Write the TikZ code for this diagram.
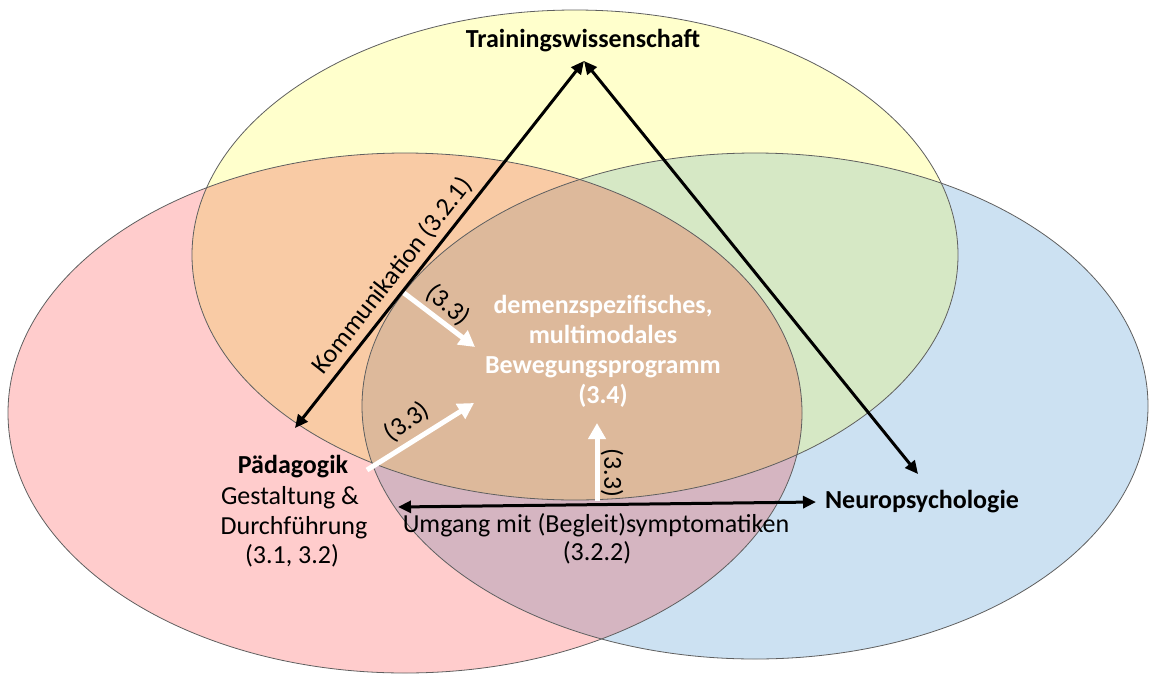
\documentclass[tikz,border=0pt]{standalone}
\usepackage{fontspec}
\setmainfont{Carlito}
\usetikzlibrary{arrows.meta}
\definecolor{cYel}{RGB}{255,255,204}
\definecolor{cPink}{RGB}{255,204,204}
\definecolor{cBlue}{RGB}{204,225,242}
\definecolor{cOrange}{RGB}{249,203,165}
\definecolor{cGreen}{RGB}{214,232,197}
\definecolor{cPurple}{RGB}{213,181,193}
\definecolor{cBrown}{RGB}{221,185,155}
\definecolor{cEdge}{RGB}{95,95,95}
\tikzset{
  rim/.style={draw=cEdge, line width=0.8pt},
  blkarrow/.style={line width=3pt, black, {Triangle[length=13pt,width=12pt]}-{Triangle[length=13pt,width=12pt]}},
  whtarrow/.style={line width=5pt, white, -{Triangle[length=16pt,width=17pt]}},
  lbl/.style={inner sep=0pt, font=\fontsize{26}{31}\selectfont},
  hdr/.style={inner sep=0pt, font=\fontsize{26}{31}\selectfont\bfseries},
  ctr/.style={inner sep=0pt, text=white, font=\fontsize{26}{31}\selectfont\bfseries},
}
\begin{document}
\begin{tikzpicture}[x=1pt, y=-1pt]
\useasboundingbox (0,0) rectangle (1151,675);

% base fields
\fill[cPink] (405,413) ellipse [x radius=397, y radius=260];
\fill[cBlue] (755,406) ellipse [x radius=393, y radius=253];
\fill[cYel]  (575,255) ellipse [x radius=383, y radius=245];

% pairwise overlaps
\begin{scope}
  \clip (405,413) ellipse [x radius=397, y radius=260];
  \fill[cOrange] (575,255) ellipse [x radius=383, y radius=245];
\end{scope}
\begin{scope}
  \clip (755,406) ellipse [x radius=393, y radius=253];
  \fill[cGreen] (575,255) ellipse [x radius=383, y radius=245];
\end{scope}
\begin{scope}
  \clip (405,413) ellipse [x radius=397, y radius=260];
  \fill[cPurple] (755,406) ellipse [x radius=393, y radius=253];
\end{scope}
% common core
\begin{scope}
  \clip (405,413) ellipse [x radius=397, y radius=260];
  \clip (755,406) ellipse [x radius=393, y radius=253];
  \fill[cBrown] (575,255) ellipse [x radius=383, y radius=245];
\end{scope}

% outlines
\draw[rim] (405,413) ellipse [x radius=397, y radius=260];
\draw[rim] (755,406) ellipse [x radius=393, y radius=253];
\draw[rim] (575,255) ellipse [x radius=383, y radius=245];

% discipline labels
\node[hdr, anchor=base] (tw) at (583,47) {Trainingswissenschaft};
\node[hdr, anchor=base] (pad) at (293,473) {Pädagogik};
\node[lbl, anchor=base] (pad2) at (290,504) {Gestaltung \&};
\node[lbl, anchor=base] (pad3) at (294,534) {Durchführung};
\node[lbl, anchor=base] (pad4) at (292,563) {(3.1, 3.2)};
\node[hdr, anchor=base] (neu) at (922,508) {Neuropsychologie};

% programme in the core
\node[ctr, anchor=base] (c1) at (603,313) {demenzspezifisches,};
\node[ctr, anchor=base] (c2) at (603,343) {multimodales};
\node[ctr, anchor=base] (c3) at (603,373) {Bewegungsprogramm};
\node[ctr, anchor=base] (c4) at (603,403) {(3.4)};

% arrow end points
\coordinate (apex) at (584,61);
\coordinate (padtip) at (295,428);
\coordinate (neutip) at (918,474);
\coordinate (hl) at (398,507);
\coordinate (hr) at (816,502);

% black connectors
\draw[blkarrow] (padtip) -- (apex)
  node[lbl, pos=0.385, sloped, above=5pt] (kom) {Kommunikation (3.2.1)};
\draw[blkarrow] (apex) -- (neutip);
\draw[blkarrow] (hl) -- (hr);
\node[lbl, anchor=base] (umg) at (596,532) {Umgang mit (Begleit)symptomatiken};
\node[lbl, anchor=base] (umg2) at (597,560) {(3.2.2)};

% white arrows into the core
\coordinate (w1s) at (404,293);
\coordinate (w1e) at (475,347);
\coordinate (w2s) at (367,470);
\coordinate (w2e) at (474,403);
\coordinate (w3s) at (597,501);
\coordinate (w3e) at (597,423);
\draw[whtarrow] (w1s) -- (w1e);
\draw[whtarrow] (w2s) -- (w2e);
\draw[whtarrow] (w3s) -- (w3e);
\node[lbl, rotate=-40] (l1) at (448,305) {(3.3)};
\node[lbl, rotate=36] (l2) at (407,422) {(3.3)};
\node[lbl, rotate=-90] (l3) at (612,473) {(3.3)};
\end{tikzpicture}
\end{document}
